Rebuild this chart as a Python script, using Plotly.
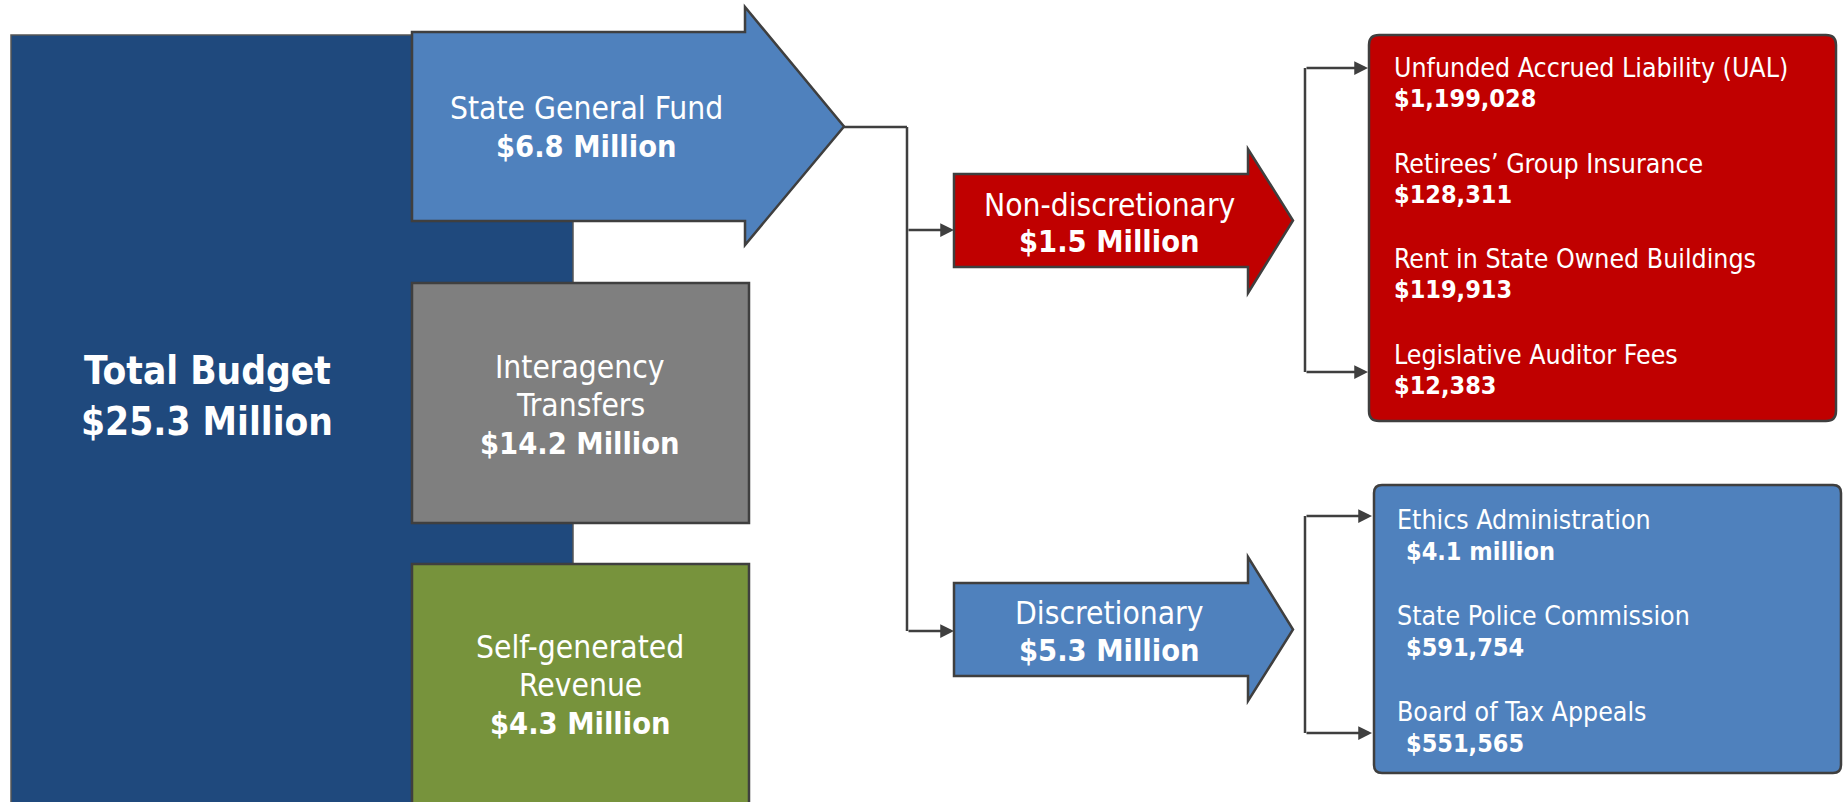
import plotly.graph_objects as go

# ---------------- data (labels and amounts) ----------------
total_label = "Total Budget"
total_amount = "$25.3 Million"
source_names = [["State General Fund"], ["Interagency", "Transfers"], ["Self-generated", "Revenue"]]
source_amounts = ["$6.8 Million", "$14.2 Million", "$4.3 Million"]
split_names = ["Non-discretionary", "Discretionary"]
split_amounts = ["$1.5 Million", "$5.3 Million"]
nondisc_items = ["Unfunded Accrued Liability (UAL)", "Retirees’ Group Insurance",
                 "Rent in State Owned Buildings", "Legislative Auditor Fees"]
nondisc_amounts = ["$1,199,028", "$128,311", "$119,913", "$12,383"]
disc_items = ["Ethics Administration", "State Police Commission", "Board of Tax Appeals"]
disc_amounts = ["$4.1 million", "$591,754", "$551,565"]

# ---------------- styles / geometry ----------------
W, H = 1847, 802
FONT = "DejaVu Sans Condensed, Lato, sans-serif"
NAVY = "#1F497D"
BLUE = "#4F81BD"
GRAY = "#7F7F7F"
GREEN = "#77933C"
RED = "#C00000"
EDGE = "#3F3F3F"

fig = go.Figure()
shapes = []
ann = []


def rect(x0, y0, x1, y1, fill, lw=2.5, lc=EDGE):
    shapes.append(dict(type="rect", x0=x0, y0=y0, x1=x1, y1=y1, fillcolor=fill,
                       line=dict(color=lc, width=lw), layer="above"))


def arrow_shape(x0, y0, y1, xb, hy0, hy1, xt, fill):
    yt = (y0 + y1) / 2
    p = (f"M{x0},{y0} L{xb},{y0} L{xb},{hy0} L{xt},{yt} L{xb},{hy1} "
         f"L{xb},{y1} L{x0},{y1} Z")
    shapes.append(dict(type="path", path=p, fillcolor=fill,
                       line=dict(color=EDGE, width=2.5), layer="above"))


def round_rect(x0, y0, x1, y1, r, fill):
    p = (f"M{x0+r},{y0} L{x1-r},{y0} Q{x1},{y0} {x1},{y0+r} L{x1},{y1-r} "
         f"Q{x1},{y1} {x1-r},{y1} L{x0+r},{y1} Q{x0},{y1} {x0},{y1-r} "
         f"L{x0},{y0+r} Q{x0},{y0} {x0+r},{y0} Z")
    shapes.append(dict(type="path", path=p, fillcolor=fill,
                       line=dict(color=EDGE, width=2.5), layer="above"))


def line(x0, y0, x1, y1):
    shapes.append(dict(type="line", x0=x0, y0=y0, x1=x1, y1=y1,
                       line=dict(color=EDGE, width=2.5), layer="above"))


def arr(x0, y0, x1, y1):
    ann.append(dict(x=x1, y=y1, ax=x0, ay=y0, xref="x", yref="y", axref="x", ayref="y",
                    text="", showarrow=True, arrowhead=2, arrowsize=1.1, arrowwidth=2.5,
                    arrowcolor=EDGE, standoff=0, startstandoff=0))


def txt(x, y, s, size, bold=False, anchor="center"):
    ann.append(dict(x=x, y=y, xref="x", yref="y", text=f"<b>{s}</b>" if bold else s,
                    showarrow=False, xanchor=anchor, yanchor="middle",
                    font=dict(family=FONT, size=size, color="white")))


# total budget block
rect(11, 35, 573, 830, NAVY, lw=1.5, lc="#555555")
txt(207, 370, total_label, 38.5, True)
txt(207, 421, total_amount, 38.5, True)

# sources
arrow_shape(412, 32, 221, 745, 7, 245, 844, BLUE)
rect(412, 283, 749, 523, GRAY)
rect(412, 564, 749, 830, GREEN)

src_lines_y = [[108], [367, 405], [647, 685]]
src_amt_y = [146, 443, 723]
src_cx = [586, 580, 580]
for names, ys, amt, ay, cx in zip(source_names, src_lines_y, source_amounts, src_amt_y, src_cx):
    for n, y in zip(names, ys):
        txt(cx, y, n, 31.5)
    txt(cx, ay, amt, 30.5, True)

# connector from state general fund
line(844, 127, 907, 127)
line(907, 127, 907, 631)
arr(907, 230, 954, 230)
arr(907, 631, 954, 631)

# split arrows
arrow_shape(954, 174, 267, 1248, 149, 293, 1293, RED)
arrow_shape(954, 583, 676, 1248, 557, 701, 1293, BLUE)
split_cx = 1109
txt(split_cx, 205, split_names[0], 31.5)
txt(split_cx, 241, split_amounts[0], 30.5, True)
txt(split_cx, 613, split_names[1], 31.5)
txt(split_cx, 650, split_amounts[1], 30.5, True)

# brackets
line(1305, 68, 1305, 372)
arr(1305, 68, 1368, 68)
arr(1305, 372, 1368, 372)
line(1305, 516, 1305, 733)
arr(1305, 516, 1372, 516)
arr(1305, 733, 1372, 733)

# detail boxes
round_rect(1369, 35, 1836, 421, 10, RED)
round_rect(1374, 485, 1841, 773, 8, BLUE)

nd_y = [67, 163, 258, 354]
for n, a, y in zip(nondisc_items, nondisc_amounts, nd_y):
    txt(1392, y, n, 26.5, anchor="left")
    txt(1392, y + 31, a, 25, True, anchor="left")

d_y = [519, 615, 711]
for n, a, y in zip(disc_items, disc_amounts, d_y):
    txt(1395, y, n, 26.5, anchor="left")
    txt(1404, y + 32, a, 25, True, anchor="left")

fig.update_layout(
    width=W, height=H,
    margin=dict(l=0, r=0, t=0, b=0),
    paper_bgcolor="white", plot_bgcolor="white",
    xaxis=dict(range=[0, W], visible=False, fixedrange=True),
    yaxis=dict(range=[H, 0], visible=False, fixedrange=True),
    shapes=shapes, annotations=ann, showlegend=False,
)
fig.write_html("out.html", config={"displayModeBar": False},
               post_script="document.body.style.margin='0px';document.body.style.overflow='hidden';")
